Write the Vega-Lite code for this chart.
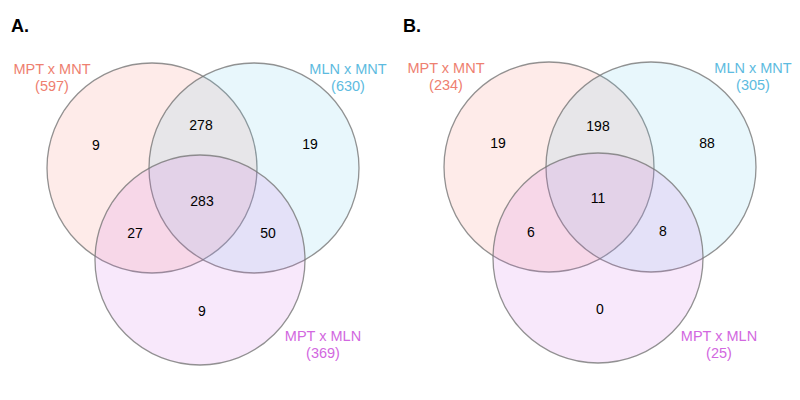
{
  "$schema": "https://vega.github.io/schema/vega-lite/v6.json",
  "padding": 0,
  "spacing": 0,
  "config": {"view": {"stroke": null}, "font": "Liberation Sans"},
  "datasets": {
    "circlesA": [
      {"set": "MPT x MNT", "x": 152, "y": 168},
      {"set": "MLN x MNT", "x": 254, "y": 168},
      {"set": "MPT x MLN", "x": 200, "y": 260}
    ],
    "countsA": [
      {"region": "MPT x MNT only", "x": 96, "y": 146, "n": 9},
      {"region": "MPT x MNT & MLN x MNT", "x": 201, "y": 126, "n": 278},
      {"region": "MLN x MNT only", "x": 310, "y": 145, "n": 19},
      {"region": "all three", "x": 202, "y": 202, "n": 283},
      {"region": "MPT x MNT & MPT x MLN", "x": 135, "y": 234, "n": 27},
      {"region": "MLN x MNT & MPT x MLN", "x": 268, "y": 234, "n": 50},
      {"region": "MPT x MLN only", "x": 202, "y": 312, "n": 9}
    ],
    "labelsA": [
      {"set": "MPT x MNT", "text": "MPT x MNT\n(597)", "x": 52, "y": 70},
      {"set": "MLN x MNT", "text": "MLN x MNT\n(630)", "x": 348, "y": 70},
      {"set": "MPT x MLN", "text": "MPT x MLN\n(369)", "x": 323, "y": 337}
    ],
    "circlesB": [
      {"set": "MPT x MNT", "x": 149, "y": 167},
      {"set": "MLN x MNT", "x": 251, "y": 167},
      {"set": "MPT x MLN", "x": 198, "y": 258}
    ],
    "countsB": [
      {"region": "MPT x MNT only", "x": 98, "y": 144, "n": 19},
      {"region": "MPT x MNT & MLN x MNT", "x": 198, "y": 127, "n": 198},
      {"region": "MLN x MNT only", "x": 307, "y": 144, "n": 88},
      {"region": "all three", "x": 198, "y": 199, "n": 11},
      {"region": "MPT x MNT & MPT x MLN", "x": 131, "y": 233, "n": 6},
      {"region": "MLN x MNT & MPT x MLN", "x": 263, "y": 232, "n": 8},
      {"region": "MPT x MLN only", "x": 200, "y": 310, "n": 0}
    ],
    "labelsB": [
      {"set": "MPT x MNT", "text": "MPT x MNT\n(234)", "x": 46, "y": 69},
      {"set": "MLN x MNT", "text": "MLN x MNT\n(305)", "x": 353, "y": 69},
      {"set": "MPT x MLN", "text": "MPT x MLN\n(25)", "x": 319, "y": 337}
    ]
  },
  "hconcat": [
    {
      "width": 400, "height": 400,
      "layer": [
        {
          "data": {"name": "circlesA"},
          "mark": {"type": "point", "shape": "circle", "filled": true, "size": 44100, "fillOpacity": 0.15, "stroke": "#777777", "strokeOpacity": 0.8, "strokeWidth": 1.3},
          "encoding": {
            "x": {"field": "x", "type": "quantitative", "scale": {"domain": [0, 400]}, "axis": null},
            "y": {"field": "y", "type": "quantitative", "scale": {"domain": [0, 400], "reverse": true}, "axis": null},
            "fill": {"field": "set", "type": "nominal", "scale": {"domain": ["MPT x MNT", "MLN x MNT", "MPT x MLN"], "range": ["#F8766D", "#62C6EE", "#D064E1"]}, "legend": null}
          }
        },
        {
          "data": {"name": "countsA"},
          "mark": {"type": "text", "fontSize": 14, "color": "#000", "align": "center", "baseline": "middle"},
          "encoding": {
            "x": {"field": "x", "type": "quantitative"},
            "y": {"field": "y", "type": "quantitative"},
            "text": {"field": "n", "type": "quantitative"}
          }
        },
        {
          "data": {"name": "labelsA"},
          "mark": {"type": "text", "fontSize": 14.5, "align": "center", "baseline": "middle", "lineBreak": "\n", "lineHeight": 17},
          "encoding": {
            "x": {"field": "x", "type": "quantitative"},
            "y": {"field": "y", "type": "quantitative"},
            "text": {"field": "text", "type": "nominal"},
            "color": {"field": "set", "type": "nominal", "scale": {"domain": ["MPT x MNT", "MLN x MNT", "MPT x MLN"], "range": ["#EE8070", "#5DBBE0", "#D268E0"]}, "legend": null}
          }
        },
        {
          "data": {"values": [{"panel": "A.", "x": 11, "y": 27}]},
          "mark": {"type": "text", "fontSize": 18, "fontWeight": "bold", "align": "left", "baseline": "middle", "color": "#000"},
          "encoding": {
            "x": {"field": "x", "type": "quantitative"},
            "y": {"field": "y", "type": "quantitative"},
            "text": {"field": "panel", "type": "nominal"}
          }
        }
      ],
      "resolve": {"scale": {"color": "independent"}}
    },
    {
      "width": 400, "height": 400,
      "layer": [
        {
          "data": {"name": "circlesB"},
          "mark": {"type": "point", "shape": "circle", "filled": true, "size": 44100, "fillOpacity": 0.15, "stroke": "#777777", "strokeOpacity": 0.8, "strokeWidth": 1.3},
          "encoding": {
            "x": {"field": "x", "type": "quantitative", "scale": {"domain": [0, 400]}, "axis": null},
            "y": {"field": "y", "type": "quantitative", "scale": {"domain": [0, 400], "reverse": true}, "axis": null},
            "fill": {"field": "set", "type": "nominal", "scale": {"domain": ["MPT x MNT", "MLN x MNT", "MPT x MLN"], "range": ["#F8766D", "#62C6EE", "#D064E1"]}, "legend": null}
          }
        },
        {
          "data": {"name": "countsB"},
          "mark": {"type": "text", "fontSize": 14, "color": "#000", "align": "center", "baseline": "middle"},
          "encoding": {
            "x": {"field": "x", "type": "quantitative"},
            "y": {"field": "y", "type": "quantitative"},
            "text": {"field": "n", "type": "quantitative"}
          }
        },
        {
          "data": {"name": "labelsB"},
          "mark": {"type": "text", "fontSize": 14.5, "align": "center", "baseline": "middle", "lineBreak": "\n", "lineHeight": 17},
          "encoding": {
            "x": {"field": "x", "type": "quantitative"},
            "y": {"field": "y", "type": "quantitative"},
            "text": {"field": "text", "type": "nominal"},
            "color": {"field": "set", "type": "nominal", "scale": {"domain": ["MPT x MNT", "MLN x MNT", "MPT x MLN"], "range": ["#EE8070", "#5DBBE0", "#D268E0"]}, "legend": null}
          }
        },
        {
          "data": {"values": [{"panel": "B.", "x": 3, "y": 27}]},
          "mark": {"type": "text", "fontSize": 18, "fontWeight": "bold", "align": "left", "baseline": "middle", "color": "#000"},
          "encoding": {
            "x": {"field": "x", "type": "quantitative"},
            "y": {"field": "y", "type": "quantitative"},
            "text": {"field": "panel", "type": "nominal"}
          }
        }
      ],
      "resolve": {"scale": {"color": "independent"}}
    }
  ]
}
